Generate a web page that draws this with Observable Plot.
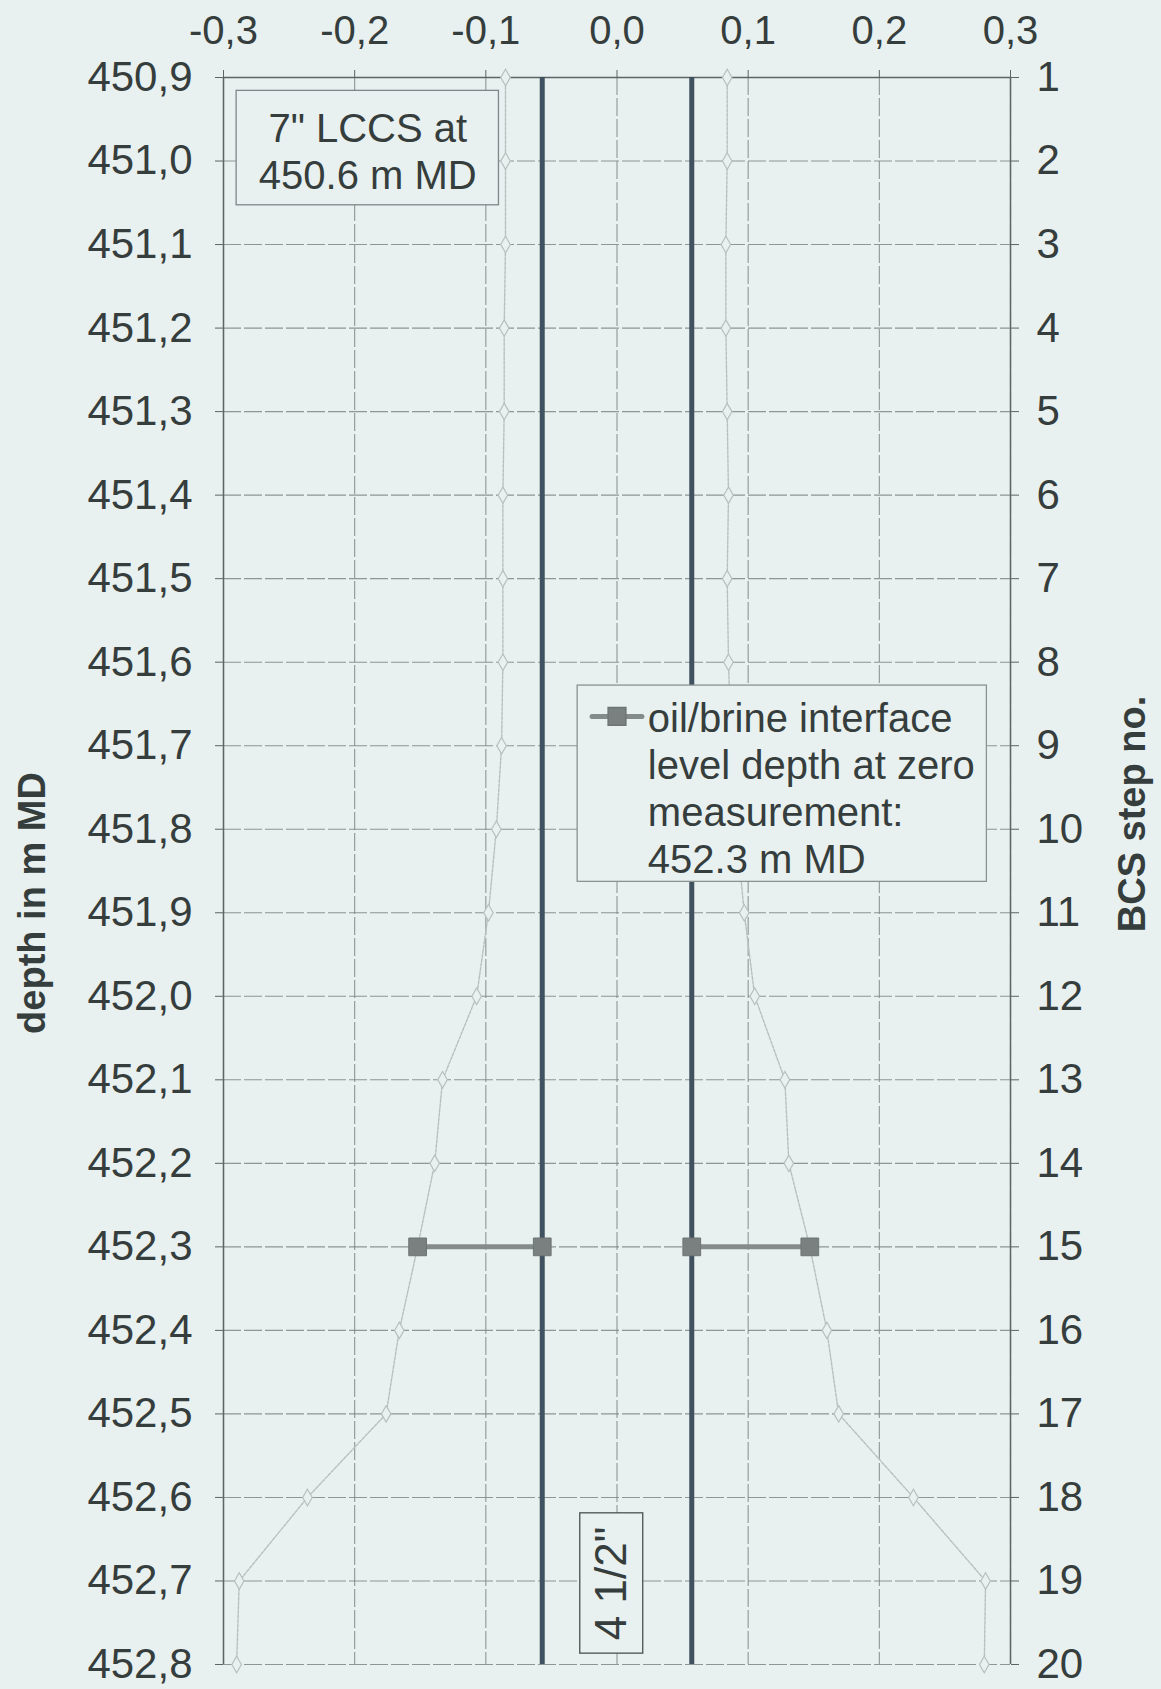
<!DOCTYPE html>
<html>
<head>
<meta charset="utf-8">
<script src="https://cdn.jsdelivr.net/npm/d3@7"></script>
<script src="https://cdn.jsdelivr.net/npm/@observablehq/plot@0.6"></script>
<style>
html, body { margin: 0; padding: 0; background: #e8f1ef; }
#chart svg { display: block; }
</style>
</head>
<body>
<div id="chart"></div>
<script>
// ---- data ----
const depths = [450.9, 451.0, 451.1, 451.2, 451.3, 451.4, 451.5, 451.6, 451.7, 451.8,
                451.9, 452.0, 452.1, 452.2, 452.3, 452.4, 452.5, 452.6, 452.7, 452.8];
const steps = [1, 2, 3, 4, 5, 6, 7, 8, 9, 10, 11, 12, 13, 14, 15, 16, 17, 18, 19, 20];
const leftProfile = [-0.085, -0.085, -0.085, -0.086, -0.086, -0.087, -0.087, -0.087, -0.088, -0.092,
                     -0.098, -0.107, -0.133, -0.139, -0.152, -0.166, -0.176, -0.236, -0.288, -0.290];
const rightProfile = [0.084, 0.084, 0.083, 0.083, 0.084, 0.085, 0.084, 0.085, 0.087, 0.091,
                      0.097, 0.105, 0.128, 0.131, 0.147, 0.160, 0.169, 0.226, 0.281, 0.280];
const xTicks = [-0.3, -0.2, -0.1, 0.0, 0.1, 0.2, 0.3];
const tubingEdges = [-0.057, 0.057];
const interfaceDepth = 452.3;
const interfaceLeft = [-0.152, -0.057];
const interfaceRight = [0.057, 0.147];

// annotation boxes (data units)
const noteBoxes = [
  {x1: -0.290, x2: -0.090, y1: 450.916, y2: 451.053, dash: "3,2", stroke: "#7f8888"},
  {x1: -0.030, x2: 0.282, y1: 451.628, y2: 451.863, dash: null, stroke: "#8a9292"},
  {x1: -0.028, x2: 0.020, y1: 452.619, y2: 452.787, dash: null, stroke: "#4a5050"}
];
const noteTexts = [
  {text: "7\" LCCS at\n450.6 m MD", x: -0.190, y: 450.987, anchor: "middle", rotate: 0},
  {text: "oil/brine interface\nlevel depth at zero\nmeasurement:\n452.3 m MD", x: 0.0235, y: 451.7505, anchor: "start", rotate: 0},
  {text: "4 1/2\"", x: -0.004, y: 452.703, anchor: "middle", rotate: -90}
];
const legendSample = [{x: -0.019, y: 451.665}, {x: 0.019, y: 451.665}];
const legendSquare = [{x: 0.0, y: 451.665}];

// ---- build ----
const bg = "#e8f1ef";
const ink = "#363d3d";
const fmt = d => d.toFixed(1).replace(".", ",");
const stepOf = new Map(depths.map((d, i) => [d, steps[i]]));
const profile = depths.flatMap((d, i) => [
  {side: "L", x: leftProfile[i], y: d},
  {side: "R", x: rightProfile[i], y: d}
]);
const iface = [
  ...interfaceLeft.map(x => ({g: "L", x, y: interfaceDepth})),
  ...interfaceRight.map(x => ({g: "R", x, y: interfaceDepth}))
];

const chart = Plot.plot({
  width: 1161,
  height: 1689,
  marginLeft: 223,
  marginRight: 151,
  marginTop: 77,
  marginBottom: 25,
  style: {background: bg, fontFamily: "'Liberation Sans', Arial, sans-serif", color: ink},
  x: {domain: [xTicks[0], xTicks[xTicks.length - 1]]},
  y: {domain: [depths[0], depths[depths.length - 1]], reverse: true},
  marks: [
    Plot.gridX(xTicks, {stroke: "#7e8686", strokeOpacity: 0.85, strokeWidth: 1.1, strokeDasharray: "18,3"}),
    Plot.gridY(depths, {stroke: "#7e8686", strokeOpacity: 0.85, strokeWidth: 1.1, strokeDasharray: "18,3"}),
    Plot.ruleX([xTicks[0], xTicks[xTicks.length - 1]], {stroke: "#5c6464", strokeWidth: 1.5}),
    Plot.ruleY([depths[0]], {stroke: "#5c6464", strokeWidth: 1.5}),
    // BCS profiles
    Plot.line(profile, {x: "x", y: "y", z: "side", stroke: "#b9bfbf", strokeWidth: 1.4, strokeDasharray: "3,1.5"}),
    Plot.dot(profile, {x: "x", y: "y", symbol: "diamond", r: 5, fill: bg, stroke: "#b9bfbf", strokeWidth: 1.2}),
    // 4 1/2" tubing
    Plot.ruleX(tubingEdges, {y1: depths[0], y2: depths[depths.length - 1], stroke: "#40515f", strokeWidth: 5}),
    // oil/brine interface
    Plot.line(iface, {x: "x", y: "y", z: "g", stroke: "#858b8b", strokeWidth: 5}),
    Plot.dot(iface, {x: "x", y: "y", symbol: "square", r: 10, fill: "#7a8080", stroke: "#6e7474", strokeWidth: 1}),
    // annotation boxes
    Plot.rect(noteBoxes, {x1: "x1", x2: "x2", y1: "y1", y2: "y2", fill: bg, stroke: d => d.stroke, strokeWidth: 1.3, strokeDasharray: d => d.dash}),
    Plot.text(noteTexts.filter(d => d.rotate === 0 && d.anchor === "middle"), {x: "x", y: "y", text: "text", textAnchor: "middle", lineHeight: 1.19, fontSize: 40, fill: ink}),
    Plot.text(noteTexts.filter(d => d.anchor === "start"), {x: "x", y: "y", text: "text", textAnchor: "start", lineHeight: 1.175, fontSize: 40, fill: ink}),
    Plot.text(noteTexts.filter(d => d.rotate !== 0), {x: "x", y: "y", text: "text", textAnchor: "middle", rotate: -90, fontSize: 44, fill: ink}),
    Plot.line(legendSample, {x: "x", y: "y", stroke: "#858b8b", strokeWidth: 5}),
    Plot.dot(legendSquare, {x: "x", y: "y", symbol: "square", r: 10, fill: "#7a8080", stroke: "#6e7474"}),
    // axes
    Plot.axisX(xTicks, {anchor: "top", tickFormat: fmt, tickSize: 8, tickPadding: 26, fontSize: 40, label: null, stroke: "#5c6464"}),
    Plot.axisY(depths, {anchor: "left", tickFormat: fmt, tickSize: 8, tickPadding: 23, fontSize: 42, label: null, stroke: "#5c6464"}),
    Plot.axisY(depths, {anchor: "right", tickFormat: d => String(stepOf.get(d)), tickSize: 8, tickPadding: 18, fontSize: 42, label: null, stroke: "#5c6464"}),
    Plot.text(["depth in m MD"], {text: d => d, frameAnchor: "left", textAnchor: "middle", dx: -191, dy: 32, rotate: -90, fontSize: 38, fontWeight: "bold", fill: ink}),
    Plot.text(["BCS step no."], {text: d => d, frameAnchor: "right", textAnchor: "middle", dx: 122, dy: -57, rotate: -90, fontSize: 38, fontWeight: "bold", fill: ink})
  ]
});
document.getElementById("chart").append(chart);
</script>
</body>
</html>
